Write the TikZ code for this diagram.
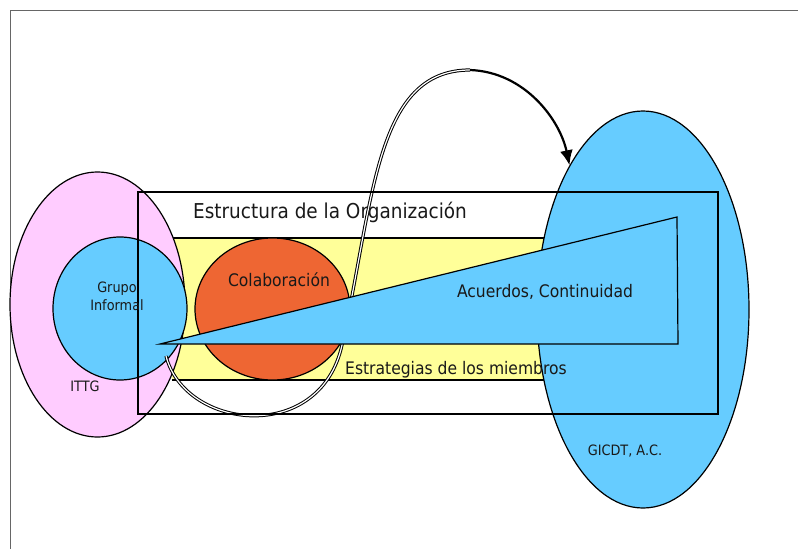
\documentclass[tikz,border=0pt]{standalone}
\usepackage{fontspec}
\setmainfont{DejaVu Sans}[FakeStretch=0.9]
\usepackage{tikz}
\usetikzlibrary{shapes.geometric}
\usetikzlibrary{arrows.meta}
\definecolor{ittgpink}{HTML}{FFCCFF}
\definecolor{myblue}{HTML}{66CCFF}
\definecolor{myyellow}{HTML}{FFFF99}
\definecolor{myorange}{HTML}{EE6633}

\begin{document}
\begin{tikzpicture}[x=1pt,y=-1pt,line width=1.2pt,
  blob node/.style={ellipse,draw=black,line width=1.2pt,inner sep=0pt},
  big text/.style={anchor=base,inner sep=0pt,text=black!90,font=\fontsize{20.5}{24}\selectfont},
  mid text/.style={anchor=base,inner sep=0pt,text=black!90,font=\fontsize{17.3}{20}\selectfont},
  small text/.style={anchor=base,inner sep=0pt,text=black!90,font=\fontsize{14.3}{17}\selectfont},
  flow/.style={draw=black,double=white,double distance=1.2pt,line width=1pt},
  flow end/.style={draw=black,line width=2.2pt,-{Latex[length=15pt,width=13pt,fill=black]}}]

  \useasboundingbox (0,0) rectangle (798,549);
  \draw[black!60,line width=1pt] (798,10) -| (10,549);

  \draw[fill=myyellow] (172,238) -- (600,238) -- (600,380) -- (172,380);

  \node[blob node,fill=ittgpink,minimum width=175,minimum height=265] (ittg) at (97.5,304.5) {};
  \node[blob node,fill=myblue,minimum width=134,minimum height=143] (grupo) at (120,308.5) {};
  \node[blob node,fill=myorange,minimum width=155,minimum height=142] (colab) at (272.5,309) {};
  \node[blob node,fill=myblue,minimum width=212,minimum height=397] (gicdt) at (643,309.5) {};

  \coordinate (inicio) at (166,356);
  \coordinate (cima) at (470,70);
  \draw[flow] (inicio) .. controls (185,430) and (320,445) .. (342,345)
    .. controls (374,200) and (375,70) .. (cima);
  \draw[flow end] (cima) .. controls (525,72) and (560,120) .. (gicdt.117.7);

  \draw[fill=myblue] (160,344) -- (677,217) -- (678,344) -- cycle;
  \draw (138,192) rectangle (718,414);

  \node[big text] (estructura) at (330,218) {Estructura de la Organización};
  \node[mid text] (colabtxt) at (279,286) {Colaboración};
  \node[mid text] (acuerdos) at (545,297) {Acuerdos, Continuidad};
  \node[mid text] (estrategias) at (456,374) {Estrategias de los miembros};
  \node[small text] (grupotxt) at (117,292) {Grupo};
  \node[small text] (informal) at (117,310) {Informal};
  \node[small text] (ittgtxt) at (85,391) {ITTG};
  \node[small text] (gicdttxt) at (625,455) {GICDT, A.C.};
\end{tikzpicture}
\end{document}
